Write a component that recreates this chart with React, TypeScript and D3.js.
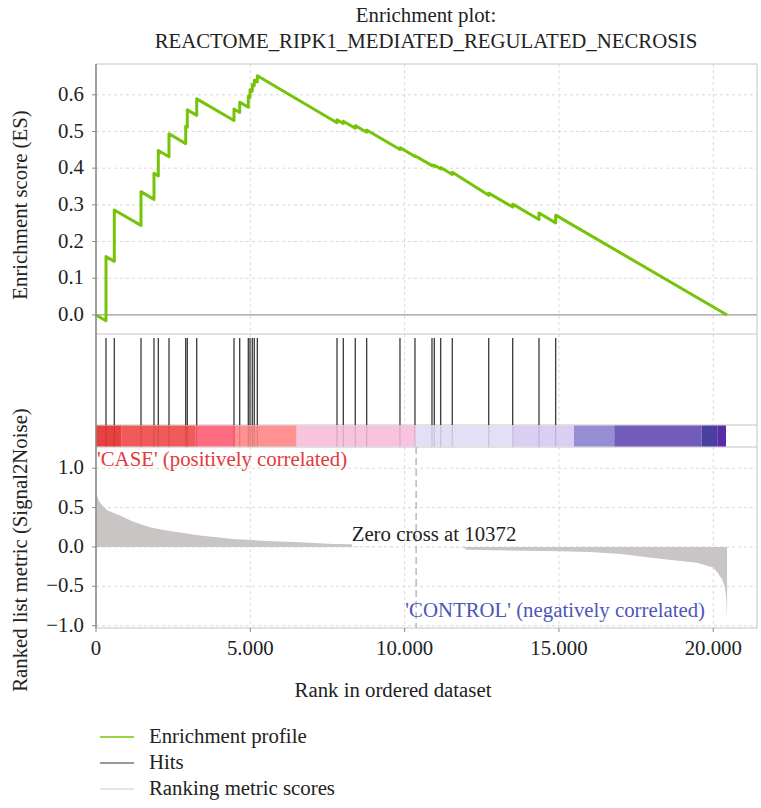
import * as d3 from "d3";
import * as React from "react";

// hit positions in the ranked list
const hitRanks = [
  324, 593, 1458, 1879, 2019, 2365, 2906, 2958, 3263, 4471, 4656, 4935, 4990,
  5064, 5129, 5227, 7809, 8013, 8401, 8770, 9849, 10335, 10886, 10961, 11168,
  11544, 12724, 13501, 14353, 14894,
];
// running ES just before and just after each hit
const esBefore = [
  -0.016, 0.146, 0.244, 0.315, 0.379, 0.431, 0.467, 0.512, 0.544, 0.53, 0.552,
  0.566, 0.593, 0.61, 0.625, 0.635, 0.524, 0.522, 0.509, 0.498, 0.451, 0.432,
  0.407, 0.405, 0.398, 0.383, 0.326, 0.294, 0.26, 0.251,
];
const esAfter = [
  0.159, 0.286, 0.336, 0.386, 0.448, 0.494, 0.514, 0.559, 0.589, 0.561, 0.58,
  0.596, 0.614, 0.628, 0.64, 0.652, 0.532, 0.528, 0.516, 0.504, 0.456, 0.434,
  0.409, 0.408, 0.402, 0.389, 0.332, 0.302, 0.278, 0.272,
];
const totalGenes = 20447;

// ranked list metric
const metricRanks = [
  0, 60, 130, 346, 778, 1210, 1750, 2290, 3370, 4450, 5530, 6610, 7680, 8290,
  8300, 10372, 11900, 12000, 13000, 14000, 15000, 16000, 17000, 17850, 18500,
  19470, 20000, 20130, 20300, 20380, 20420, 20447,
];
const metricValues = [
  0.69, 0.62, 0.56, 0.47, 0.4, 0.32, 0.25, 0.21, 0.145, 0.1, 0.077, 0.06,
  0.038, 0.035, 0.004, 0, -0.004, -0.035, -0.042, -0.048, -0.055, -0.065,
  -0.09, -0.13, -0.16, -0.2, -0.26, -0.32, -0.42, -0.52, -0.65, -0.93,
];

// colour bar blocks
const barBreaks = [
  0, 833, 3208, 4504, 6503, 10336, 13501, 15487, 16793, 19625, 20130, 20412,
];
const barColors = [
  "#e8413f", "#f25a5a", "#ff6b80", "#ff9191", "#f8c3df", "#e3dff7",
  "#dacff3", "#968dd5", "#735bb9", "#4a3ea0", "#5b2ba9",
];

const esTicks = [0, 0.1, 0.2, 0.3, 0.4, 0.5, 0.6];
const metricTicks = [1, 0.5, 0, -0.5, -1];
const rankTicks = [0, 5000, 10000, 15000, 20000];
const rankTickLabels = ["0", "5.000", "10.000", "15.000", "20.000"];
const zeroCross = 10372;

const legendItems = ["Enrichment profile", "Hits", "Ranking metric scores"];
const legendColors = ["#76c40a", "#777777", "#dddddd"];

const FONT = "Liberation Serif";
const FS = 20.8;
const W = 761;
const H = 808;

export default function App() {
  const left = 96;
  const right = 757;
  const topY = [64, 334];
  const hitY = [334, 425];
  const barY = [425, 447];
  const botY = [447, 628];

  const x = d3.scaleLinear().domain([0, 21417]).range([left, right]);
  const yEs = d3.scaleLinear().domain([-0.052, 0.684]).range([topY[1], topY[0]]);
  const yM = d3.scaleLinear().domain([-1.03, 1.27]).range([botY[1], botY[0]]);

  // path points for the running enrichment score
  const esPts: [number, number][] = [[0, 0]];
  hitRanks.forEach((r, i) => {
    esPts.push([r, esBefore[i]]);
    esPts.push([r, esAfter[i]]);
  });
  esPts.push([totalGenes, 0]);
  const esLine = d3
    .line<[number, number]>()
    .x((d) => x(d[0]))
    .y((d) => yEs(d[1]))(esPts);

  const metricArea = d3
    .area<number>()
    .x((d, i) => x(metricRanks[i]))
    .y0(yM(0))
    .y1((d) => yM(d))(metricValues);

  const fmt = d3.format(".1f");
  const grid = "#d9d9d9";
  const border = "#c4c4c4";

  return (
    <svg
      width={W}
      height={H}
      style={{ position: "absolute", left: 0, top: 0, background: "#fff", fontFamily: FONT }}
    >
      <rect width={W} height={H} fill="#fff" />
      {/* title */}
      <text x={426} y={22} textAnchor="middle" fontSize={FS} fill="#222">
        Enrichment plot:
      </text>
      <text x={426} y={48} textAnchor="middle" fontSize={FS} fill="#222">
        REACTOME_RIPK1_MEDIATED_REGULATED_NECROSIS
      </text>

      {/* top panel grid */}
      {esTicks.slice(1).map((t) => (
        <line key={"eg" + t} x1={left} x2={right} y1={yEs(t)} y2={yEs(t)} stroke={grid} strokeDasharray="3,3" />
      ))}
      {rankTicks.slice(1).map((t) => (
        <line key={"xg" + t} x1={x(t)} x2={x(t)} y1={topY[0]} y2={hitY[1]} stroke={grid} strokeDasharray="3,3" />
      ))}
      <line x1={left} x2={right} y1={yEs(0)} y2={yEs(0)} stroke="#9a9a9a" strokeWidth={1.2} />

      {/* bottom panel grid */}
      {metricTicks.map((t) => (
        <line key={"mg" + t} x1={left} x2={right} y1={yM(t)} y2={yM(t)} stroke={grid} strokeDasharray="3,3" />
      ))}
      {rankTicks.slice(1).map((t) => (
        <line key={"xb" + t} x1={x(t)} x2={x(t)} y1={botY[0]} y2={botY[1]} stroke={grid} strokeDasharray="3,3" />
      ))}

      {/* panel borders */}
      <rect x={left} y={topY[0]} width={right - left} height={botY[1] - topY[0]} fill="none" stroke={border} />
      {[topY[1], barY[0], barY[1]].map((yy) => (
        <line key={"b" + yy} x1={left} x2={right} y1={yy} y2={yy} stroke={border} />
      ))}

      {/* colour bar */}
      {barColors.map((c, i) => (
        <rect
          key={"cb" + i}
          x={x(barBreaks[i])}
          y={barY[0] + 0.5}
          width={x(barBreaks[i + 1]) - x(barBreaks[i])}
          height={barY[1] - barY[0] - 1}
          fill={c}
        />
      ))}

      {/* hits */}
      {hitRanks.map((r) => (
        <g key={"h" + r}>
          <line x1={x(r)} x2={x(r)} y1={hitY[0] + 4} y2={barY[0]} stroke="#3a3a3a" strokeWidth={1.3} />
          <line x1={x(r)} x2={x(r)} y1={barY[0]} y2={barY[1]} stroke="#000" strokeOpacity={0.12} strokeWidth={1.3} />
        </g>
      ))}

      {/* ranked metric */}
      <path d={metricArea || ""} fill="#c9c5c5" />
      <line x1={x(zeroCross)} x2={x(zeroCross)} y1={barY[1]} y2={botY[1]} stroke="#b0b0b0" strokeWidth={1.3} strokeDasharray="7,4" />
      <text x={434} y={541} textAnchor="middle" fontSize={FS} fill="#222">
        Zero cross at 10372
      </text>
      <text x={97} y={466} fontSize={FS} fill="#e2393b">
        'CASE' (positively correlated)
      </text>
      <text x={705} y={617} textAnchor="end" fontSize={FS} fill="#4c56b8">
        'CONTROL' (negatively correlated)
      </text>

      {/* ES curve */}
      <path d={esLine || ""} fill="none" stroke="#76c40a" strokeWidth={3} strokeLinejoin="round" />

      {/* left axis */}
      <line x1={left} x2={left} y1={topY[0]} y2={botY[1]} stroke="#8a8a8a" strokeWidth={1.5} />
      {esTicks.map((t) => (
        <g key={"et" + t}>
          <line x1={left - 4} x2={left} y1={yEs(t)} y2={yEs(t)} stroke="#8a8a8a" />
          <text x={84} y={yEs(t) + 6} textAnchor="end" fontSize={FS} fill="#222">
            {fmt(t)}
          </text>
        </g>
      ))}
      {metricTicks.map((t) => (
        <g key={"mt" + t}>
          <line x1={left - 4} x2={left} y1={yM(t)} y2={yM(t)} stroke="#8a8a8a" />
          <text x={84} y={yM(t) + 6} textAnchor="end" fontSize={FS} fill="#222">
            {fmt(t)}
          </text>
        </g>
      ))}
      {rankTicks.map((t, i) => (
        <g key={"rt" + t}>
          <line x1={x(t)} x2={x(t)} y1={botY[1]} y2={botY[1] + 4} stroke="#8a8a8a" />
          <text x={x(t)} y={655} textAnchor="middle" fontSize={FS} fill="#222">
            {rankTickLabels[i]}
          </text>
        </g>
      ))}

      {/* axis titles */}
      <text transform="translate(27,205) rotate(-90)" textAnchor="middle" fontSize={FS} fill="#222">
        Enrichment score (ES)
      </text>
      <text transform="translate(27,550) rotate(-90)" textAnchor="middle" fontSize={FS} fill="#222">
        Ranked list metric (Signal2Noise)
      </text>
      <text x={393} y={697} textAnchor="middle" fontSize={FS} fill="#222">
        Rank in ordered dataset
      </text>

      {/* legend */}
      {legendItems.map((name, i) => (
        <g key={"lg" + i} transform={`translate(0,${743 + i * 26})`}>
          <line x1={100} x2={134} y1={-6} y2={-6} stroke={legendColors[i]} strokeWidth={1.5} />
          <text x={149} y={0} fontSize={FS} fill="#222">
            {name}
          </text>
        </g>
      ))}
    </svg>
  );
}
